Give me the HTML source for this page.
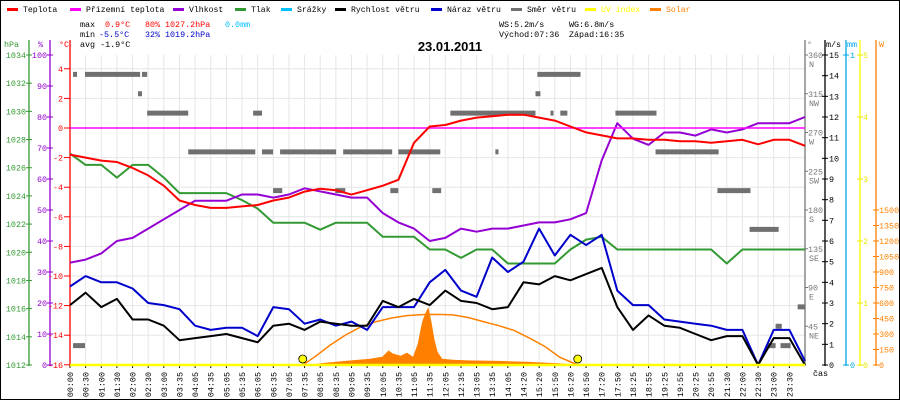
<!DOCTYPE html>
<html><head><meta charset="utf-8"><style>
html,body{margin:0;padding:0;background:#fff}
svg{display:block}
text{font-family:"Liberation Mono",monospace;font-size:8.4px}
</style></head><body>
<svg id="c" width="900" height="400">
<rect x="0.5" y="0.5" width="899" height="399" fill="#fff" stroke="#000"/>
<g id="grid"></g>
<g id="axes"></g>
<g id="marks"></g>
<g id="legend"></g>
<g>
<text x="80" y="27">max</text>
<text x="105" y="27" fill="#f00">0.9°C</text>
<text x="145" y="27" fill="#f00">80%</text>
<text x="165" y="27" fill="#f00">1027.2hPa</text>
<text x="225" y="27" fill="#00bfff">0.0mm</text>
<text x="80" y="37">min</text>
<text x="99" y="37" fill="#0000cc">-5.5°C</text>
<text x="145" y="37" fill="#0000cc">32%</text>
<text x="165" y="37" fill="#0000cc">1019.2hPa</text>
<text x="80" y="47">avg -1.9°C</text>
<text x="499" y="27">WS:5.2m/s</text>
<text x="569" y="27">WG:6.8m/s</text>
<text x="499" y="37">Východ:07:36</text>
<text x="569" y="37">Západ:16:35</text>
<text x="450" y="51" text-anchor="middle" style="font-family:'Liberation Sans',sans-serif;font-weight:bold;font-size:13px">23.01.2011</text>
</g>
</svg>
<script>
const xLabels=["00:00","00:30","01:00","01:30","02:00","02:30","03:00","03:35","04:05","04:35","05:05","05:35","06:05","06:35","07:05","07:35","08:05","08:35","09:05","09:35","10:05","10:35","11:05","11:35","12:05","12:35","13:05","13:35","14:05","14:20","15:20","15:50","16:20","16:50","17:20","17:50","18:25","18:55","19:25","19:55","20:25","20:55","21:30","22:00","22:30","23:00","23:30"];
const temp=[-1.8,-2.0,-2.2,-2.3,-2.7,-3.2,-3.9,-4.9,-5.2,-5.4,-5.4,-5.3,-5.2,-4.9,-4.7,-4.3,-4.1,-4.2,-4.5,-4.2,-3.9,-3.5,-1.0,0.1,0.2,0.5,0.7,0.8,0.9,0.9,0.7,0.5,0.1,-0.3,-0.5,-0.7,-0.7,-0.8,-0.8,-0.9,-0.9,-1.0,-0.9,-0.8,-1.1,-0.8,-0.8,-1.2];
const groundTemp=[0,0];
const humidity=[33,34,36,40,41,44,47,50,53,53,53,55,55,54,55,57,56,55,54,54,49,46,44,40,41,44,43,44,44,45,46,46,47,49,66,78,73,71,75,75,74,76,75,76,78,78,78,80];
const pressure=[1027.0,1026.2,1026.2,1025.3,1026.2,1026.2,1025.3,1024.2,1024.2,1024.2,1024.2,1023.7,1023.1,1022.1,1022.1,1022.1,1021.6,1022.1,1022.1,1022.1,1021.1,1021.1,1021.1,1020.2,1020.2,1019.6,1020.2,1020.2,1019.2,1019.2,1019.2,1019.2,1020.2,1020.9,1021.1,1020.2,1020.2,1020.2,1020.2,1020.2,1020.2,1020.2,1019.2,1020.2,1020.2,1020.2,1020.2,1020.2];
const windSpeed=[2.9,3.5,2.8,3.2,2.2,2.2,1.9,1.2,1.3,1.4,1.5,1.3,1.1,1.9,2.0,1.7,2.1,2.0,1.9,1.9,3.1,2.8,3.2,2.9,3.6,3.1,3.0,2.7,2.8,4.0,3.9,4.3,4.1,4.4,4.7,2.8,1.7,2.4,1.9,1.8,1.5,1.2,1.4,1.4,0,1.3,1.3,0];
const windGust=[3.8,4.3,4.0,4.0,3.7,3.0,2.9,2.7,1.9,1.7,1.8,1.8,1.4,2.8,2.7,2.0,2.2,1.9,2.1,1.7,2.8,2.8,2.8,4.0,4.6,3.6,3.3,5.2,4.5,5.0,6.6,5.3,6.3,5.8,6.3,3.6,2.9,2.9,2.2,2.1,2.0,1.9,1.7,1.7,0,1.7,1.7,0.2];
const dirStart=[0.1,0.49,2.35,15.26,2.22,15.2,2.52,5.98,12.42,15.69,16.01,17.81,3.86,6.27,6.86,8.92,10.72,13.89,19.12,6.63,8.66,10.46,11.83,21.14,22.19,23.76,23.04,0.1,22.75,23.2];
const dirEnd=[0.23,2.29,2.52,16.67,2.35,15.36,3.86,6.27,15.2,15.78,16.24,19.15,6.05,6.63,8.69,10.52,12.09,13.99,21.18,6.93,8.99,10.72,12.12,22.22,23.14,24,23.24,0.49,23.04,23.53];
const dirDeg=[337.5,337.5,337.5,337.5,315,315,292.5,292.5,292.5,292.5,292.5,292.5,247.5,247.5,247.5,247.5,247.5,247.5,247.5,202.5,202.5,202.5,202.5,202.5,157.5,67.5,45,22.5,22.5,22.5];
const solarTimes=[7.8,8.3,9.0,9.8,10.2,10.4,10.55,10.8,11.0,11.2,11.35,11.5,11.6,11.7,11.8,11.9,12.0,12.15,12.5,13.0,14.0,15.0,16.0,16.5,16.7];
const solarValues=[0,20,40,60,80,140,110,90,120,80,200,420,500,560,420,250,130,60,50,45,40,30,15,5,0];
const sunTimes=[7.6,8,8.5,9,9.5,10,10.5,11,11.5,12,12.5,13,13.5,14,14.5,15,15.5,16,16.58];
const sunValues=[0,80,194,290,370,420,455,478,488,490,485,460,420,380,335,260,180,75,0];
const sunEvents=[7.6,16.58];

const NS="http://www.w3.org/2000/svg";
const X0=70,X1=805;
const xH=h=>X0+h*(X1-X0)/24;
const xI=i=>X0+i*(X1-X0)/47;
const yT=t=>128-t*14.8;
const yP=p=>365-(p-1012)*310/22;
const yHu=h=>365-h*3.1;
const yV=v=>365-v*310/15;
const yD=d=>365-d*310/360;
const yW=w=>365-w*310/3000;
const yUV=u=>365-u*62;
function el(tag,attrs,parent,txt){const e=document.createElementNS(NS,tag);for(const k in attrs)e.setAttribute(k,attrs[k]);if(txt!==undefined)e.textContent=txt;parent.appendChild(e);return e;}
const grid=document.getElementById('grid'),axes=document.getElementById('axes'),marks=document.getElementById('marks'),legend=document.getElementById('legend');

for(let i=0;i<xLabels.length;i++){
  const l=el('line',{x1:xI(i),x2:xI(i),y1:55,y2:365,stroke:'#e6e6e6'},grid);
  
  
}
for(let t=-16;t<=4;t+=2){
  const l=el('line',{x1:X0,x2:X1,y1:yT(t),y2:yT(t),stroke:'#e6e6e6'},grid);
  
  
}

for(let i=0;i<xLabels.length;i++){
  const x=xI(i)+3;
  const t=el('text',{x:x,y:372,transform:`rotate(-90 ${x} 372)`,'text-anchor':'end'},axes,xLabels[i]);
  
  
  const tk=el('line',{x1:xI(i),x2:xI(i),y1:365,y2:368,stroke:'#000'},axes);
  
  
}
const cas=el('text',{x:813,y:376},axes,'čas');



function vAxis(x,col,name,title,tx){
  const a=el('line',{x1:x,x2:x,y1:40,y2:366,stroke:col,'stroke-width':1.3},axes);
  
  
  const t=el('text',{x:tx,y:47,fill:col},axes,title);
  
  
}
vAxis(29,'#339933','pressure','hPa',4);
vAxis(50,'#9400d3','humidity','%',38);
vAxis(70,'#ff0000','temperature','°C',59);
for(let p=1012;p<=1034;p+=2){
  el('line',{x1:26,x2:32,y1:yP(p),y2:yP(p),stroke:'#339933'},axes);
  const t=el('text',{x:26,y:yP(p)+3,fill:'#339933','text-anchor':'end'},axes,p);
  
  
}
for(let h=0;h<=100;h+=10){
  el('line',{x1:47,x2:53,y1:yHu(h),y2:yHu(h),stroke:'#9400d3'},axes);
  const t=el('text',{x:47,y:yHu(h)+3,fill:'#9400d3','text-anchor':'end'},axes,h);
  
  
}
for(let c=-16;c<=4;c+=2){
  el('line',{x1:64,x2:70,y1:yT(c),y2:yT(c),stroke:'#ff0000'},axes);
  const t=el('text',{x:63,y:yT(c)+3,fill:'#ff0000','text-anchor':'end'},axes,c);
  
  
}
vAxis(805,'#777','direction','°',807);
vAxis(825,'#000','speed','m/s',826);
vAxis(846,'#00a8e8','rain','mm',847);
vAxis(860,'#ffff00','uv','',860);
vAxis(876,'#ff8000','solar','W',879);
const dirs=['NE','E','SE','S','SW','W','NW','N'];
for(let k=1;k<=8;k++){
  const d=k*45;
  el('line',{x1:805,x2:808,y1:yD(d),y2:yD(d),stroke:'#777'},axes);
  const t=el('text',{x:808,y:yD(d)+3,fill:'#777'},axes,d);
  
  
  const t2=el('text',{x:809,y:yD(d)+12,fill:'#777'},axes,dirs[k-1]);
  
  
}
for(let v=0;v<=15;v++){
  el('line',{x1:822,x2:828,y1:yV(v),y2:yV(v),stroke:'#000'},axes);
  const t=el('text',{x:829,y:yV(v)+3},axes,v);
  
  
}
[[0,'0'],[1,'1']].forEach(([v,s])=>{
  const y=365-v*310;
  el('line',{x1:843,x2:849,y1:y,y2:y,stroke:'#00a8e8'},axes);
  const t=el('text',{x:850,y:y+3,fill:'#00a8e8'},axes,s);
  
  
});
for(let u=0;u<=5;u++){
  el('line',{x1:857,x2:863,y1:yUV(u),y2:yUV(u),stroke:'#e8e800'},axes);
  const t=el('text',{x:863,y:yUV(u)+3,fill:'#e8e800'},axes,u);
  
  
}
for(let w=0;w<=1500;w+=150){
  el('line',{x1:873,x2:879,y1:yW(w),y2:yW(w),stroke:'#ff8000'},axes);
  const t=el('text',{x:879,y:yW(w)+3,fill:'#ff8000'},axes,w);
  
  
}

function poly(vals,yf,col,name,w){
  const pts=vals.map((v,i)=>xI(i).toFixed(1)+','+yf(v).toFixed(1)).join(' ');
  const p=el('polyline',{points:pts,fill:'none',stroke:col,'stroke-width':w||2,'stroke-linejoin':'round'},marks);
  
  
}
for(let i=0;i<dirDeg.length;i++){
  const r=el('rect',{x:xH(dirStart[i]),y:yD(dirDeg[i])-2.5,width:Math.max(3,xH(dirEnd[i])-xH(dirStart[i])),height:5,fill:'#707070'},marks);
  
  
}
{
  let d=`M${xH(solarTimes[0])},365 `+solarTimes.map((t,i)=>`L${xH(t).toFixed(1)},${yW(solarValues[i]).toFixed(1)}`).join(' ')+` L${xH(solarTimes[solarTimes.length-1])},365Z`;
  const p=el('path',{d:d,fill:'#ff8000'},marks);
  
  
  const pts=sunTimes.map((t,i)=>xH(t).toFixed(1)+','+yW(sunValues[i]).toFixed(1)).join(' ');
  const l=el('polyline',{points:pts,fill:'none',stroke:'#ff8000','stroke-width':1.5},marks);
  
  
}
poly(pressure,yP,'#339933','pressure-line');
poly(humidity,yHu,'#9400d3','humidity-line');
{
  const l=el('line',{x1:X0,x2:X1,y1:yT(groundTemp[0]),y2:yT(groundTemp[1]),stroke:'#ff00ff','stroke-width':1.5},marks);
  
  
}
poly(temp,yT,'#ff0000','temperature-line');
poly(windGust,yV,'#0000cc','wind-gust-line');
poly(windSpeed,yV,'#000000','wind-speed-line');
{
  const l=el('line',{x1:X0,x2:X1,y1:365,y2:365,stroke:'#ffff00','stroke-width':2.5},marks);
  
  
}
sunEvents.forEach(t=>{
  const c=el('circle',{cx:xH(t),cy:359,r:4,fill:'#ffff00',stroke:'#000','stroke-width':0.8},marks);
  
  
});

const leg=[['Teplota','#ff0000',7],['Přízemní teplota','#ff00ff',70],['Vlhkost','#9400d3',173],['Tlak','#339933',235],['Srážky','#00bfff',281],['Rychlost větru','#000',335],['Náraz větru','#0000cc',431],['Směr větru','#707070',511],['UV index','#ffff00',585],['Solar','#ff8000',650]];
leg.forEach(([name,col,x])=>{
  const g=el('g',{},legend);
  
  
  el('rect',{x:x,y:8,width:11,height:3,fill:col},g);
  const isColText=(name==='UV index'||name==='Solar');
  el('text',{x:x+16,y:12,fill:isColText?col:'#000',textLength:name.length*4.9,lengthAdjust:'spacingAndGlyphs'},g,name);
});
</script>
</body></html>
